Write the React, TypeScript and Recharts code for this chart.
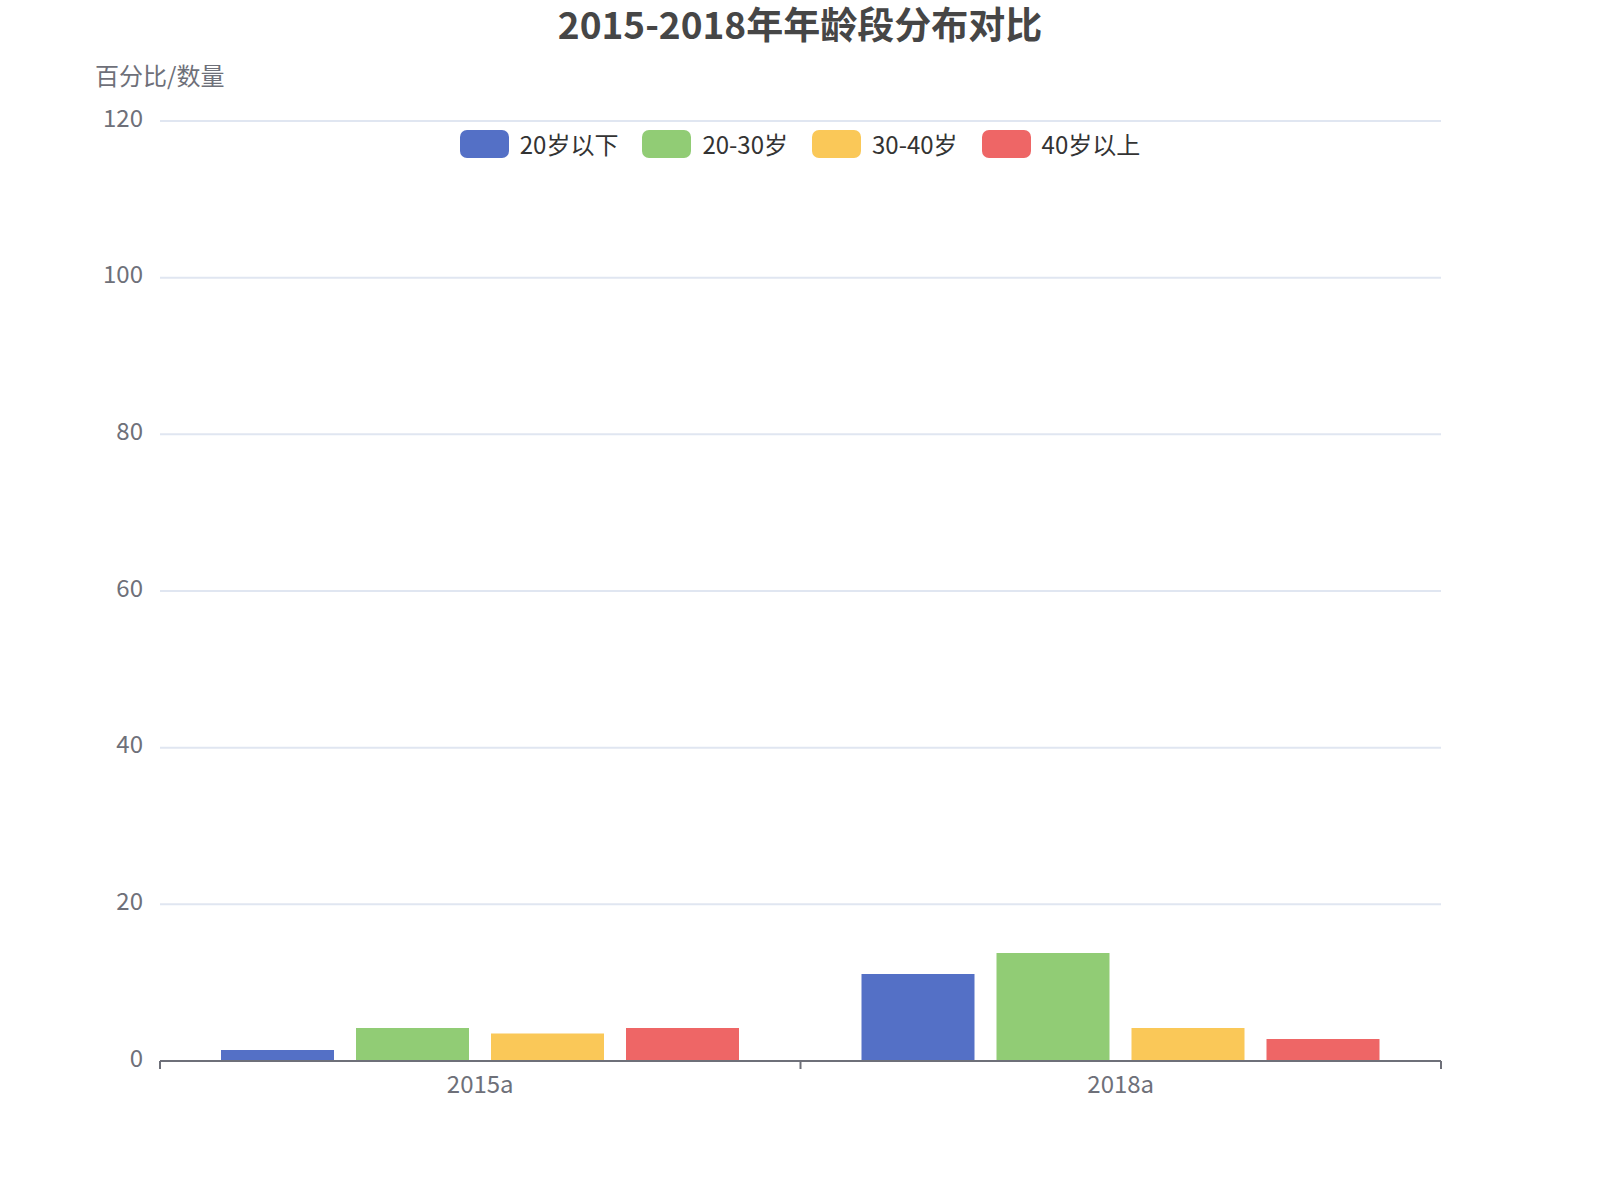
import React from 'react'
import { BarChart, Bar, XAxis, YAxis, CartesianGrid, Legend } from 'recharts'

const categories = ['2015a', '2018a']
const under20 = [1.4, 11.1]
const age20to30 = [4.2, 13.8]
const age30to40 = [3.5, 4.2]
const over40 = [4.2, 2.8]
const yTicks = [0, 20, 40, 60, 80, 100, 120]

const seriesList = [
  { key: 'under20', name: '20岁以下', color: '#5470C6' },
  { key: 'age20to30', name: '20-30岁', color: '#91CC75' },
  { key: 'age30to40', name: '30-40岁', color: '#FAC858' },
  { key: 'over40', name: '40岁以上', color: '#EE6666' },
]

const data = categories.map((cat, i) => ({
  name: cat,
  under20: under20[i],
  age20to30: age20to30[i],
  age30to40: age30to40[i],
  over40: over40[i],
}))

const FONT = '"Noto Sans CJK SC", "Noto Sans", sans-serif'
const AXIS_COLOR = '#6E7079'

// ECharts-like category tick: tick marks sit on band boundaries, label in the middle
function CategoryTick(props: any) {
  const { x, y, payload, index, visibleTicksCount } = props
  const half = payload && payload.offset ? payload.offset : 320
  const isLast = index === visibleTicksCount - 1
  return (
    <g>
      <line x1={x - half} x2={x - half} y1={y} y2={y + 8} stroke={AXIS_COLOR} strokeWidth={2} />
      {isLast && (
        <line x1={x + half} x2={x + half} y1={y} y2={y + 8} stroke={AXIS_COLOR} strokeWidth={2} />
      )}
      <text x={x} y={y + 15} dy="0.71em" textAnchor="middle" fill={AXIS_COLOR} fontSize={24} fontFamily={FONT}>
        {payload.value}
      </text>
    </g>
  )
}

function ValueTick(props: any) {
  const { x, y, payload } = props
  return (
    <text x={x} y={y - 3} dy="0.355em" textAnchor="end" fill={AXIS_COLOR} fontSize={24} fontFamily={FONT}>
      {payload.value}
    </text>
  )
}

function renderLegend() {
  return (
    <div style={{ display: 'flex', justifyContent: 'center', alignItems: 'center', fontFamily: FONT }}>
      {seriesList.map((s, i) => (
        <div key={s.key} style={{ display: 'flex', alignItems: 'center', marginLeft: i === 0 ? 0 : 24 }}>
          <div style={{ width: 49, height: 28, borderRadius: 7, background: s.color }} />
          <span style={{ fontSize: 24, color: '#333', marginLeft: 11, lineHeight: '28px' }}>{s.name}</span>
        </div>
      ))}
    </div>
  )
}

export default function App() {
  return (
    <div style={{ position: 'absolute', left: 0, top: 0, width: 1600, height: 1200, background: '#fff' }}>
      <div
        style={{
          position: 'absolute',
          left: 0,
          top: 3,
          width: 1600,
          textAlign: 'center',
          fontFamily: FONT,
          fontWeight: 'bold',
          fontSize: 37,
          lineHeight: '40px',
          color: '#464646',
        }}
      >
        2015-2018年年龄段分布对比
      </div>
      <div
        style={{
          position: 'absolute',
          left: 95,
          top: 60,
          fontFamily: FONT,
          fontSize: 24,
          lineHeight: '30px',
          color: AXIS_COLOR,
        }}
      >
        百分比/数量
      </div>
      <BarChart
        width={1600}
        height={1200}
        data={data}
        margin={{ top: 121, right: 159, bottom: 79, left: 60 }}
        barCategoryGap={61}
        barGap={22}
      >
        <CartesianGrid vertical={false} stroke="#E0E6F1" strokeWidth={2} />
        <XAxis
          dataKey="name"
          height={60}
          axisLine={{ stroke: AXIS_COLOR, strokeWidth: 2 }}
          tickLine={false}
          tickSize={0}
          tickMargin={0}
          tick={<CategoryTick />}
          interval={0}
        />
        <YAxis
          width={100}
          domain={[0, 120]}
          ticks={yTicks}
          axisLine={false}
          tickLine={false}
          tickSize={6}
          tickMargin={11}
          tick={<ValueTick />}
        />
        <Legend
          verticalAlign="middle"
          layout="horizontal"
          content={renderLegend}
          wrapperStyle={{ top: 130, left: 0, width: 1600 }}
        />
        {seriesList.map((s) => (
          <Bar key={s.key} dataKey={s.key} name={s.name} fill={s.color} isAnimationActive={false} />
        ))}
      </BarChart>
    </div>
  )
}
